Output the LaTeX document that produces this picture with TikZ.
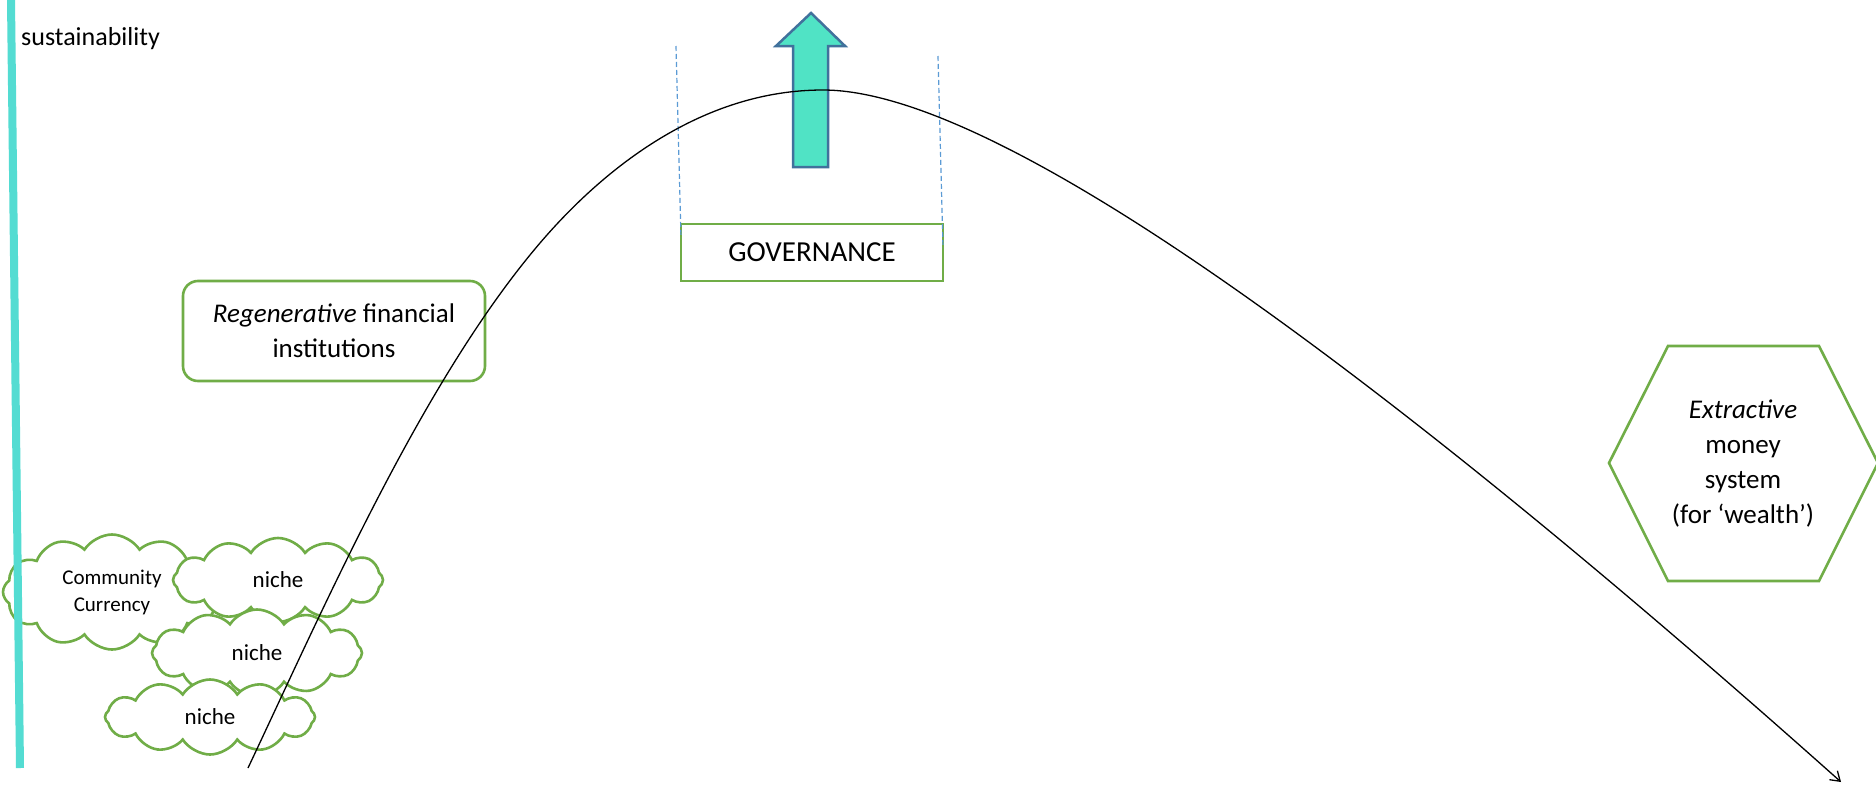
\documentclass[tikz,border=0pt]{standalone}
\usepackage{fontspec}
\setmainfont{Carlito}
\usetikzlibrary{shapes.symbols,arrows.meta}
\definecolor{boxgreen}{RGB}{112,173,71}
\definecolor{tealline}{RGB}{84,220,210}
\definecolor{arrowfill}{RGB}{80,227,197}
\definecolor{arrowedge}{RGB}{65,113,156}
\definecolor{dashblue}{RGB}{91,155,213}
\begin{document}
\begin{tikzpicture}[x=1pt,y=-1pt,
  greenline/.style={draw=boxgreen,line width=2.6pt},
  cloudnode/.style={cloud, cloud puffs=12, cloud puff arc=115, cloud ignores aspect, greenline, fill=white, inner sep=0pt, minimum width=210pt, align=center},
  maintext/.style={font=\fontsize{27}{35}\selectfont, align=center},
  guide/.style={draw=dashblue, line width=1.2pt, dash pattern=on 5pt off 3pt},
  curveline/.style={line width=1.3pt, -{Straight Barb[length=9pt,width=12pt]}}
]
\useasboundingbox (0,0) rectangle (1876,787);
\fill[white] (0,0) rectangle (1876,787);

% clouds
\node[cloudnode, minimum width=218pt, minimum height=115pt, font=\fontsize{21}{27}\selectfont] (cc) at (112,592) {Community\\Currency};
\node[cloudnode, minimum height=84pt, font=\fontsize{23}{28}\selectfont] (n1) at (278,580) {niche};
\node[cloudnode, minimum height=87pt, font=\fontsize{23}{28}\selectfont] (n2) at (257,653) {niche};
\node[cloudnode, minimum height=75pt, font=\fontsize{23}{28}\selectfont] (n3) at (210,717) {niche};

% sustainability axis
\coordinate (stop) at (11,0);
\coordinate (sbot) at (20,768);
\draw[tealline, line width=8pt] (stop) -- (sbot);
\node[anchor=base west, font=\fontsize{26}{30}\selectfont, inner sep=0pt] (sus) at (21,45) {sustainability};

% boxes
\node[greenline, rounded corners=15pt, minimum width=302pt, minimum height=100pt, maintext, fill=white] (regen) at (334,331) {\textit{Regenerative} financial\\institutions};
\node[greenline, minimum width=262pt, minimum height=57pt, maintext, font=\fontsize{29}{35}\selectfont, fill=white] (gov) at (812,252.5) {GOVERNANCE};

% dashed guides
\coordinate (gl1) at (676,46);
\coordinate (gl2) at (681,238);
\coordinate (gr1) at (938,56);
\coordinate (gr2) at (943,248);
\draw[guide] (gl1) -- (gl2);
\draw[guide] (gr1) -- (gr2);

% up arrow
\draw[draw=arrowedge, fill=arrowfill, line width=2.5pt, line join=miter]
  (811,13) -- (845,46) -- (828,46) -- (828,167) -- (793,167) -- (793,46) -- (776,46) -- cycle;

% hexagon
\draw[greenline] (1609,463) -- (1668,346) -- (1819,346) -- (1878,463) -- (1819,581) -- (1668,581) -- cycle;
\node[maintext] (hex) at (1743,464) {\textit{Extractive}\\money\\system\\(for ‘wealth’)};

% curve
\coordinate (cstart) at (248,768);
\coordinate (cmid) at (540,243);
\coordinate (cpeak) at (823,90);
\coordinate (cend) at (1841,782);
\draw[curveline] (cstart) .. controls (325,605) and (423,380) .. (cmid)
  .. controls (605,167) and (703,90) .. (cpeak)
  .. controls (1020,90) and (1463,445) .. (cend);
\end{tikzpicture}
\end{document}
